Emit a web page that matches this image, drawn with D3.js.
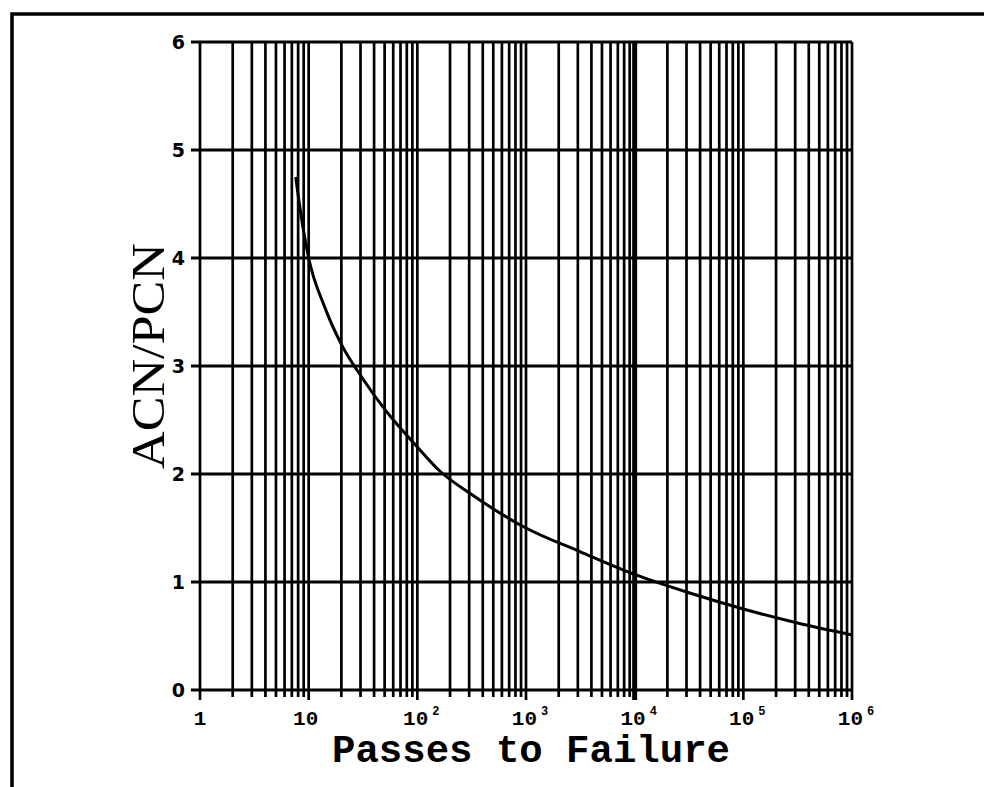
<!DOCTYPE html>
<html>
<head>
<meta charset="utf-8">
<script src="https://cdn.jsdelivr.net/npm/d3@7"></script>
<style>
html,body{margin:0;padding:0;background:#fff;}
svg{display:block;}
</style>
</head>
<body>
<svg id="chart" width="984" height="787"></svg>
<script>
// ---- data ----
const passes = [7.6, 8.5, 10, 14, 20, 31.6, 50, 100, 160, 316, 1000, 3160, 10000, 31600, 100000, 316000, 1000000];
const ratio  = [4.75, 4.4, 4.0, 3.55, 3.2, 2.88, 2.6, 2.25, 2.03, 1.81, 1.5, 1.28, 1.07, 0.90, 0.75, 0.62, 0.51];
const yTicks = [0, 1, 2, 3, 4, 5, 6];
const xLabelValues = [1, 10, 100, 1000, 10000, 100000, 1000000];
const xLabelBase = ["1", "10", "10", "10", "10", "10", "10"];
const xLabelExp = ["", "", "2", "3", "4", "5", "6"];
const xTitle = "Passes to Failure";
const yTitle = "ACN/PCN";

// ---- layout ----
const svg = d3.select("#chart");
const pLeft = 200, pRight = 852, pTop = 42, pBottom = 690;
const x = d3.scaleLog().domain([1, 1e6]).range([pLeft, pRight]);
const y = d3.scaleLinear().domain([0, 6]).range([pBottom, pTop]);

// frame
svg.append("path")
  .attr("d", "M12,787 V14 H984")
  .attr("fill", "none").attr("stroke", "#000").attr("stroke-width", 3.5);

const g = svg.append("g");

// vertical grid lines (1..9 per decade)
const xGrid = x.ticks();
g.selectAll("line.vx").data(xGrid).join("line")
  .attr("class", "vx")
  .attr("x1", d => x(d)).attr("x2", d => x(d))
  .attr("y1", pTop).attr("y2", d => (xLabelValues.includes(d) ? pBottom + 10 : pBottom + 7))
  .attr("stroke", "#000")
  .attr("stroke-width", d => (Math.abs(d - 10000) < 1 ? 5 : 2.7));

// horizontal grid lines
g.selectAll("line.hy").data(yTicks).join("line")
  .attr("class", "hy")
  .attr("x1", pLeft - 9).attr("x2", pRight)
  .attr("y1", d => y(d)).attr("y2", d => y(d))
  .attr("stroke", "#000").attr("stroke-width", 2.9);

// y tick labels
g.selectAll("text.yl").data(yTicks).join("text")
  .attr("class", "yl")
  .attr("x", pLeft - 15).attr("y", d => y(d))
  .attr("dy", "0.36em")
  .attr("text-anchor", "end")
  .attr("font-family", "DejaVu Sans")
  .attr("font-weight", "bold")
  .attr("font-size", 19)
  .text(d => d);

// x tick labels
const xl = g.selectAll("text.xl").data(xLabelValues).join("text")
  .attr("class", "xl")
  .attr("x", (d, i) => x(d) + (xLabelExp[i] ? 4 : (i === 0 ? 0 : -3)))
  .attr("y", 725)
  .attr("text-anchor", "middle")
  .attr("font-family", "Liberation Mono")
  .attr("font-weight", "bold")
  .attr("font-size", 21);
xl.append("tspan").text((d, i) => xLabelBase[i]);
xl.filter((d, i) => xLabelExp[i] !== "")
  .append("tspan")
  .attr("dx", 4)
  .attr("dy", -10)
  .attr("font-size", 12)
  .text(d => xLabelExp[xLabelValues.indexOf(d)]);

// curve
const pts = passes.map((p, i) => [p, ratio[i]]);
g.append("path")
  .datum(pts)
  .attr("fill", "none")
  .attr("stroke", "#000")
  .attr("stroke-width", 3)
  .attr("d", d3.line().x(d => x(d[0])).y(d => y(d[1])).curve(d3.curveMonotoneX));

// axis titles
svg.append("text")
  .attr("x", 531).attr("y", 762)
  .attr("text-anchor", "middle")
  .attr("font-family", "Liberation Mono")
  .attr("font-weight", "bold")
  .attr("font-size", 38)
  .attr("textLength", 398)
  .attr("lengthAdjust", "spacingAndGlyphs")
  .text(xTitle);

svg.append("text")
  .attr("transform", "translate(164,356) rotate(-90)")
  .attr("text-anchor", "middle")
  .attr("font-family", "Liberation Serif")
  .attr("font-size", 46)
  .attr("textLength", 226)
  .attr("lengthAdjust", "spacingAndGlyphs")
  .text(yTitle);
</script>
</body>
</html>
